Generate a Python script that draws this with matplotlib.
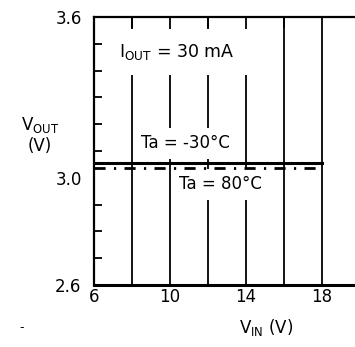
import matplotlib
matplotlib.use("Agg")
import matplotlib.pyplot as plt

# V_IN sweep (V) and measured V_OUT (V) at I_OUT = 30 mA
vin = [6, 8, 10, 12, 14, 16, 18]
vout_m30 = [3.055, 3.055, 3.055, 3.055, 3.055, 3.055, 3.055]
vout_80 = [3.036, 3.036, 3.036, 3.036, 3.036, 3.036, 3.036]

xticks = [6, 10, 14, 18]
grid_x = [8, 10, 12, 14, 16, 18]
yticks = [2.6, 3.0, 3.6]
yminor = [2.7, 2.8, 2.9, 3.1, 3.2, 3.3, 3.4, 3.5]

plt.rcParams['font.family'] = ['DejaVu Sans']
plt.rcParams['mathtext.fontset'] = 'dejavusans'

fig = plt.figure(figsize=(3.55, 3.47), dpi=100)
ax = fig.add_axes([0.265, 0.1787, 0.735, 0.7723])

ax.set_xlim(6, 19.74)
ax.set_ylim(2.6, 3.6)

for x in grid_x:
    ax.axvline(x, color='k', lw=1.3, zorder=1)

ax.plot(vin, vout_m30, color='k', lw=2.2, zorder=5)
ax.plot(vin, vout_80, color='k', lw=2.0, zorder=5,
        dashes=(4, 3, 0.8, 3))

box = dict(facecolor='white', edgecolor='none', boxstyle='square,pad=0.4')
ax.text(10.35, 3.47, r'$\mathrm{I_{OUT}}$ = 30 mA', fontsize=12.5,
        ha='center', va='center', bbox=dict(facecolor='white', edgecolor='none',
                                             boxstyle='square,pad=0.75'), zorder=2)
ax.text(10.8, 3.128, 'Ta = -30°C', fontsize=12, ha='center', va='center',
        bbox=box, zorder=2)
ax.text(12.65, 2.975, 'Ta = 80°C', fontsize=12, ha='center', va='center',
        bbox=box, zorder=2)

ax.spines['right'].set_visible(False)
for s in ['left', 'top']:
    ax.spines[s].set_linewidth(1.6)
ax.spines['bottom'].set_linewidth(2.2)

ax.set_xticks(xticks)
ax.set_xticks(grid_x, minor=True)
ax.set_yticks(yticks)
ax.set_yticks(yminor, minor=True)
ax.set_yticklabels(['2.6', '3.0', '3.6'])
ax.tick_params(axis='y', which='major', direction='in', length=0, pad=9, labelsize=12)
ax.tick_params(axis='y', which='minor', direction='in', length=6, width=1.3)
ax.tick_params(axis='x', which='major', direction='in', length=0, pad=2, labelsize=12)
ax.tick_params(axis='x', which='minor', direction='in', length=8, width=1.3,
               top=True, bottom=False)

fig.text(0.113, 0.64, r'$\mathrm{V_{OUT}}$', fontsize=12, ha='center', va='center')
fig.text(0.113, 0.58, '(V)', fontsize=12, ha='center', va='center')
fig.text(0.75, 0.055, r'$\mathrm{V_{IN}}$ (V)', fontsize=12, ha='center', va='center')
fig.text(0.06, 0.057, '-', fontsize=9, ha='center', va='center')

fig.savefig('out.png', dpi=100)
